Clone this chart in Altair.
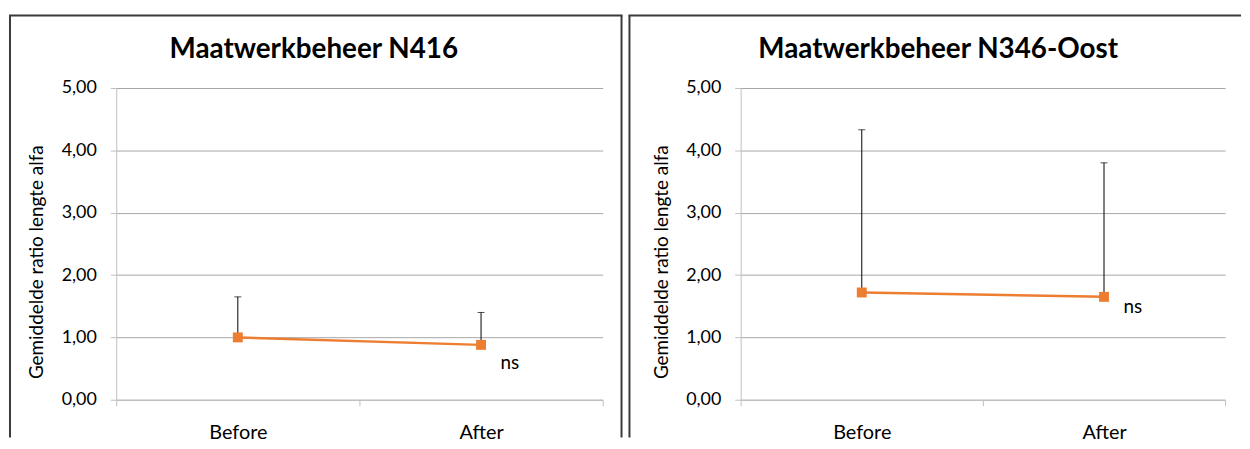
import altair as alt
import pandas as pd

# ---- data ----
categories = ["Before", "After"]
panel_titles = ["Maatwerkbeheer N416", "Maatwerkbeheer N346-Oost"]
n416_mean = [1.00, 0.88]
n416_upper = [1.65, 1.40]
n346_mean = [1.72, 1.65]
n346_upper = [4.33, 3.80]
significance = ["", "ns"]
y_ticks = [0, 1, 2, 3, 4, 5]
y_title = "Gemiddelde ratio lengte alfa"

ORANGE = "#ED7D31"
FONT = "Lato"
FRAME = "#3A3A3A"
H = 314


def panel(title, means, uppers, width, ns_dy, frame_left, frame_right=None, top_end=None):
    df = pd.DataFrame({"cat": categories, "mean": means, "upper": uppers, "sig": significance})
    base = alt.Chart(df)
    x = alt.X(
        "cat:N",
        sort=categories,
        scale=alt.Scale(paddingInner=0, paddingOuter=0),
        axis=alt.Axis(
            title=None, labelAngle=0, tickBand="extent", tickSize=6, labelPadding=17,
            labelFontSize=20, labelFont=FONT, labelColor="black",
            domainColor="#BFBFBF", tickColor="#BFBFBF", grid=False,
        ),
    )
    y = alt.Y(
        "mean:Q",
        scale=alt.Scale(domain=[0, 5], nice=False),
        axis=alt.Axis(
            values=y_ticks,
            labelExpr="replace(format(datum.value, '.2f'), '.', ',')",
            tickSize=6, labelPadding=14, labelFontSize=18, labelFont=FONT, labelColor="black",
            domainColor="#BFBFBF", tickColor="#BFBFBF", gridColor="#A6A6A6",
            title=y_title, titleFont=FONT, titleFontSize=19, titleFontWeight="normal",
            titleColor="black", titleAngle=270, titleX=-80, titleY=175,
            titleAlign="center", titleBaseline="middle",
        ),
    )
    err = base.mark_rule(color="black", strokeWidth=1).encode(x=x, y=y, y2="upper:Q")
    cap = base.mark_tick(color="black", thickness=1, size=7, orient="horizontal").encode(
        x=x, y=alt.Y("upper:Q")
    )
    line = base.mark_line(color=ORANGE, strokeWidth=2.5).encode(x=x, y=y)
    pts = base.mark_square(size=100, color=ORANGE, opacity=1, filled=True).encode(x=x, y=y)
    txt = base.mark_text(
        fontSize=19, font=FONT, color="black", align="center", baseline="alphabetic",
        dx=29, dy=ns_dy,
    ).encode(x=x, y=y, text="sig:N")

    tdf = pd.DataFrame({"title": [title]})
    ttl = alt.Chart(tdf).mark_text(
        fontSize=28, font=FONT, fontWeight="bold", color="black",
        align="center", baseline="alphabetic",
    ).encode(text="title:N", x=alt.value(199), y=alt.value(-30))

    frames = []
    fd = alt.Chart(pd.DataFrame({"k": [0]}))
    frames.append(fd.mark_rule(color=FRAME, strokeWidth=2).encode(
        x=alt.value(frame_left), y=alt.value(-73), y2=alt.value(352)))
    right_x = frame_right if frame_right is not None else top_end
    frames.append(fd.mark_rule(color=FRAME, strokeWidth=2).encode(
        x=alt.value(frame_left - 1), x2=alt.value(right_x + 1), y=alt.value(-73)))
    if frame_right is not None:
        frames.append(fd.mark_rule(color=FRAME, strokeWidth=2).encode(
            x=alt.value(frame_right), y=alt.value(-73), y2=alt.value(352)))

    return alt.layer(err, cap, line, pts, txt, ttl, *frames).properties(width=width, height=H)


left = panel(panel_titles[0], n416_mean, n416_upper, 490, 24, -107, frame_right=509)
right = panel(panel_titles[1], n346_mean, n346_upper, 488, 16, -112, top_end=503)

chart = (
    alt.hconcat(left, right, spacing=139, bounds="flush")
    .properties(padding={"left": 0, "top": 5, "right": 0, "bottom": 0}, background="white")
    .configure_view(stroke=None)
)

chart.save("out.html", embed_options={"renderer": "svg", "actions": False})
